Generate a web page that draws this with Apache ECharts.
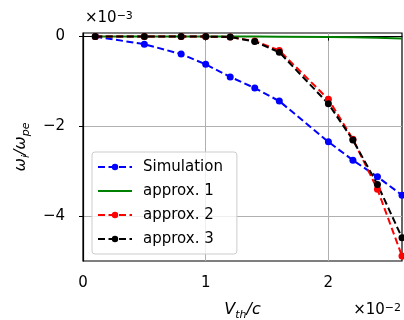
<!DOCTYPE html>
<html>
<head>
<meta charset="utf-8">
<script src="https://cdn.jsdelivr.net/npm/echarts@6/dist/echarts.min.js"></script>
<style>
html,body{margin:0;padding:0;background:#fff;}
#chart{width:404px;height:320px;}
</style>
</head>
<body>
<div id="chart"></div>
<script>
// Data (x in units of 1e-2, y in units of 1e-3)
var xVals = [0.1, 0.5, 0.8, 1.0, 1.2, 1.4, 1.6, 2.0, 2.2, 2.4, 2.6];
var simulation = [0, -0.17, -0.39, -0.62, -0.90, -1.15, -1.44, -2.35, -2.76, -3.13, -3.54];
var approx1 = [0, 0, 0, 0, 0, 0, -0.002, -0.008, -0.015, -0.028, -0.045];
var approx2 = [0, 0, 0, 0, -0.01, -0.10, -0.31, -1.40, -2.29, -3.41, -4.90];
var approx3 = [0, 0, 0, 0, -0.01, -0.11, -0.35, -1.50, -2.31, -3.30, -4.49];
var seriesNames = ['Simulation', 'approx. 1', 'approx. 2', 'approx. 3'];
var xTickValues = [0, 1, 2];
var xTickLabels = ['0', '1', '2'];
var yTickValues = [0, -2, -4];
var yTickLabels = ['0', '\u22122', '\u22124'];

function pairs(ys) { return xVals.map(function (x, i) { return [x, ys[i]]; }); }
function labelFor(vals, labels) {
  return function (v) {
    for (var i = 0; i < vals.length; i++) if (Math.abs(v - vals[i]) < 1e-9) return labels[i];
    return '';
  };
}

var FONT = 'DejaVu Sans';
var DASH = [7, 3.5];
var chart = echarts.init(document.getElementById('chart'), null, {renderer: 'canvas'});

function mkLine(name, ys, color, dashed, sym) {
  return {
    name: name, type: 'line', data: pairs(ys),
    symbol: sym ? 'circle' : 'none', symbolSize: 7, showSymbol: !!sym,
    lineStyle: {color: color, width: 2, type: dashed ? DASH : 'solid'},
    itemStyle: {color: color},
    animation: false, clip: true
  };
}
var colors = ['#0000ff', '#008000', '#ff0000', '#000000'];
var dashed = [true, false, true, true];

var option = {
  animation: false,
  grid: {left: 83, right: 2, top: 33, bottom: 59, show: true, borderColor: '#000', borderWidth: 1.2,
    backgroundColor: 'transparent', containLabel: false, outerBoundsMode: 'none'},
  xAxis: {
    type: 'value', min: 0, max: 2.6,
    axisLine: {show: true, lineStyle: {color: '#000', width: 1.2}},
    axisTick: {show: true, inside: false, length: 4, lineStyle: {color: '#000', width: 1}, customValues: xTickValues},
    axisLabel: {color: '#000', fontFamily: FONT, fontSize: 15, margin: 15, customValues: xTickValues,
      formatter: labelFor(xTickValues, xTickLabels)},
    splitLine: {show: true, lineStyle: {color: '#b0b0b0', width: 1}},
    name: '{v|V}{s|th}{v|/c}', nameLocation: 'middle', nameGap: 41,
    nameTextStyle: {rich: {
      v: {fontFamily: FONT, fontStyle: 'italic', fontSize: 16, color: '#000'},
      s: {fontFamily: FONT, fontStyle: 'italic', fontSize: 11, color: '#000', verticalAlign: 'bottom', padding: [0, 0, -3, 0]}
    }}
  },
  yAxis: {
    type: 'value', min: -5.01, max: 0.08,
    axisLine: {show: true, lineStyle: {color: '#000', width: 1.2}},
    axisTick: {show: true, inside: false, length: 4, lineStyle: {color: '#000', width: 1}, customValues: yTickValues},
    axisLabel: {color: '#000', fontFamily: FONT, fontSize: 15, margin: 18, customValues: yTickValues,
      formatter: labelFor(yTickValues, yTickLabels)},
    splitLine: {show: true, lineStyle: {color: '#b0b0b0', width: 1}},
    name: '{v|\u03c9}{s|i}{v|/\u03c9}{s|pe}', nameLocation: 'middle', nameGap: 54, nameRotate: 90,
    nameTextStyle: {rich: {
      v: {fontFamily: FONT, fontStyle: 'italic', fontSize: 16, color: '#000'},
      s: {fontFamily: FONT, fontStyle: 'italic', fontSize: 11, color: '#000', verticalAlign: 'bottom', padding: [0, 0, -3, 0]}
    }}
  },
  legend: {
    data: seriesNames.map(function (n, i) {
      return {name: n, lineStyle: {color: colors[i], width: 2, type: dashed[i] ? DASH : 'solid'},
        itemStyle: {color: colors[i], opacity: i === 1 ? 0 : 1}};
    }),
    orient: 'vertical', left: 92, top: 152,
    padding: [6, 14, 6, 5], itemGap: 6, itemWidth: 34, itemHeight: 8,
    backgroundColor: 'rgba(255,255,255,0.8)', borderColor: '#cccccc', borderWidth: 1, borderRadius: 3,
    textStyle: {fontFamily: FONT, fontSize: 15, color: '#000', padding: [0, 0, 0, 6], lineHeight: 18}
  },
  graphic: [
    {type: 'text', left: 85, top: 11, style: {text: '{a|\u00d710}{b|\u22123}', rich: {
      a: {fontFamily: FONT, fontSize: 15, fill: '#000', verticalAlign: 'bottom'},
      b: {fontFamily: FONT, fontSize: 11, fill: '#000', verticalAlign: 'top'}}}},
    {type: 'text', right: 3, top: 303, style: {text: '{a|\u00d710}{b|\u22122}', rich: {
      a: {fontFamily: FONT, fontSize: 15, fill: '#000', verticalAlign: 'bottom'},
      b: {fontFamily: FONT, fontSize: 11, fill: '#000', verticalAlign: 'top'}}}}
  ],
  series: [0, 1, 2, 3].map(function (i) {
    return mkLine(seriesNames[i], [simulation, approx1, approx2, approx3][i], colors[i], dashed[i], i !== 1);
  })
};
chart.setOption(option);
</script>
</body>
</html>
